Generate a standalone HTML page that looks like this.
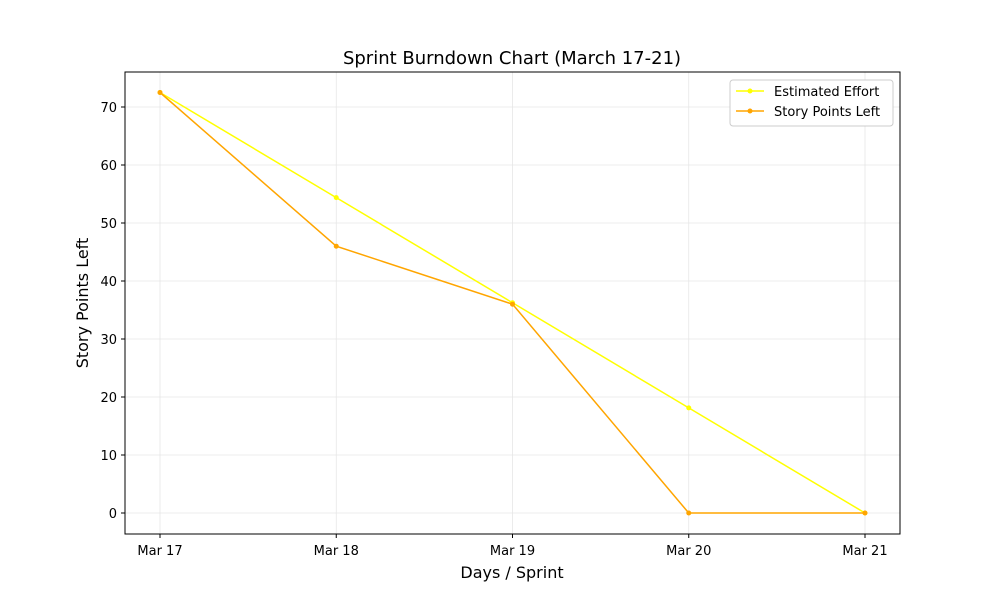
<!DOCTYPE html>
<html><head><meta charset="utf-8"><style>
body{margin:0;background:#fff;font-family:"Liberation Sans","DejaVu Sans",sans-serif;}
svg text{font-family:"DejaVu Sans","Liberation Sans",sans-serif;}
</style></head><body>
<svg id="chart" width="1000" height="600" xmlns="http://www.w3.org/2000/svg">
<rect width="1000" height="600" fill="#fff"/>
<text x="512" y="64" text-anchor="middle" font-size="18">Sprint Burndown Chart (March 17-21)</text>
<text x="512" y="578" text-anchor="middle" font-size="16">Days / Sprint</text>
<text transform="translate(88,303) rotate(-90)" text-anchor="middle" font-size="16">Story Points Left</text>
<g id="grid"></g><g id="ticks"></g><g id="series"></g>
<rect x="125" y="72" width="775" height="462" fill="none" stroke="#000" stroke-width="1"/>
<g>
<rect x="730" y="80" width="163" height="46" fill="#fff" stroke="#ccc" rx="3"/>
<line x1="736" y1="91" x2="764" y2="91" stroke="#ffff00" stroke-width="1.5"/><circle cx="750" cy="91" r="2.5" fill="#ffff00"/>
<text x="774" y="96" font-size="13">Estimated Effort</text>
<line x1="736" y1="111" x2="764" y2="111" stroke="#ffa500" stroke-width="1.5"/><circle cx="750" cy="111" r="2.5" fill="#ffa500"/>
<text x="774" y="116" font-size="13">Story Points Left</text>
</g>
</svg>
<script>
const categories=["Mar 17","Mar 18","Mar 19","Mar 20","Mar 21"];
const estimated=[72.5,54.375,36.25,18.125,0];
const storyPoints=[72.5,46,36,0,0];
const yTicks=[0,10,20,30,40,50,60,70];
const NS="http://www.w3.org/2000/svg";
const x=i=>160+i*(865-160)/(categories.length-1);
const y=v=>513-v*5.8;
function mk(t,a,p){const e=document.createElementNS(NS,t);for(const k in a)e.setAttribute(k,a[k]);p.appendChild(e);return e;}
const g=document.getElementById('grid'),tk=document.getElementById('ticks'),s=document.getElementById('series');
categories.forEach((c,i)=>{
 const l=mk('line',{x1:x(i),x2:x(i),y1:72,y2:534,stroke:'#e6e6e6','stroke-width':0.8},g);
 
 
 mk('line',{x1:x(i),x2:x(i),y1:534,y2:538,stroke:'#000'},tk);
 const t=mk('text',{x:x(i),y:555,'text-anchor':'middle','font-size':13},tk);t.textContent=c;
 
 
});
yTicks.forEach(v=>{
 const l=mk('line',{x1:125,x2:900,y1:y(v),y2:y(v),stroke:'#e6e6e6','stroke-width':0.8},g);
 
 
 mk('line',{x1:121,x2:125,y1:y(v),y2:y(v),stroke:'#000'},tk);
 const t=mk('text',{x:117,y:y(v)+5,'text-anchor':'end','font-size':13},tk);t.textContent=v;
 
 
});
function draw(d,col,name){
 const p=mk('polyline',{points:d.map((v,i)=>x(i)+','+y(v)).join(' '),fill:'none',stroke:col,'stroke-width':1.5},s);
 
 
 d.forEach((v,i)=>{const c=mk('circle',{cx:x(i),cy:y(v),r:2.5,fill:col},s);
 
 });
}
draw(estimated,'#ffff00','estimated-effort');
draw(storyPoints,'#ffa500','story-points-left');
</script>
</body></html>
